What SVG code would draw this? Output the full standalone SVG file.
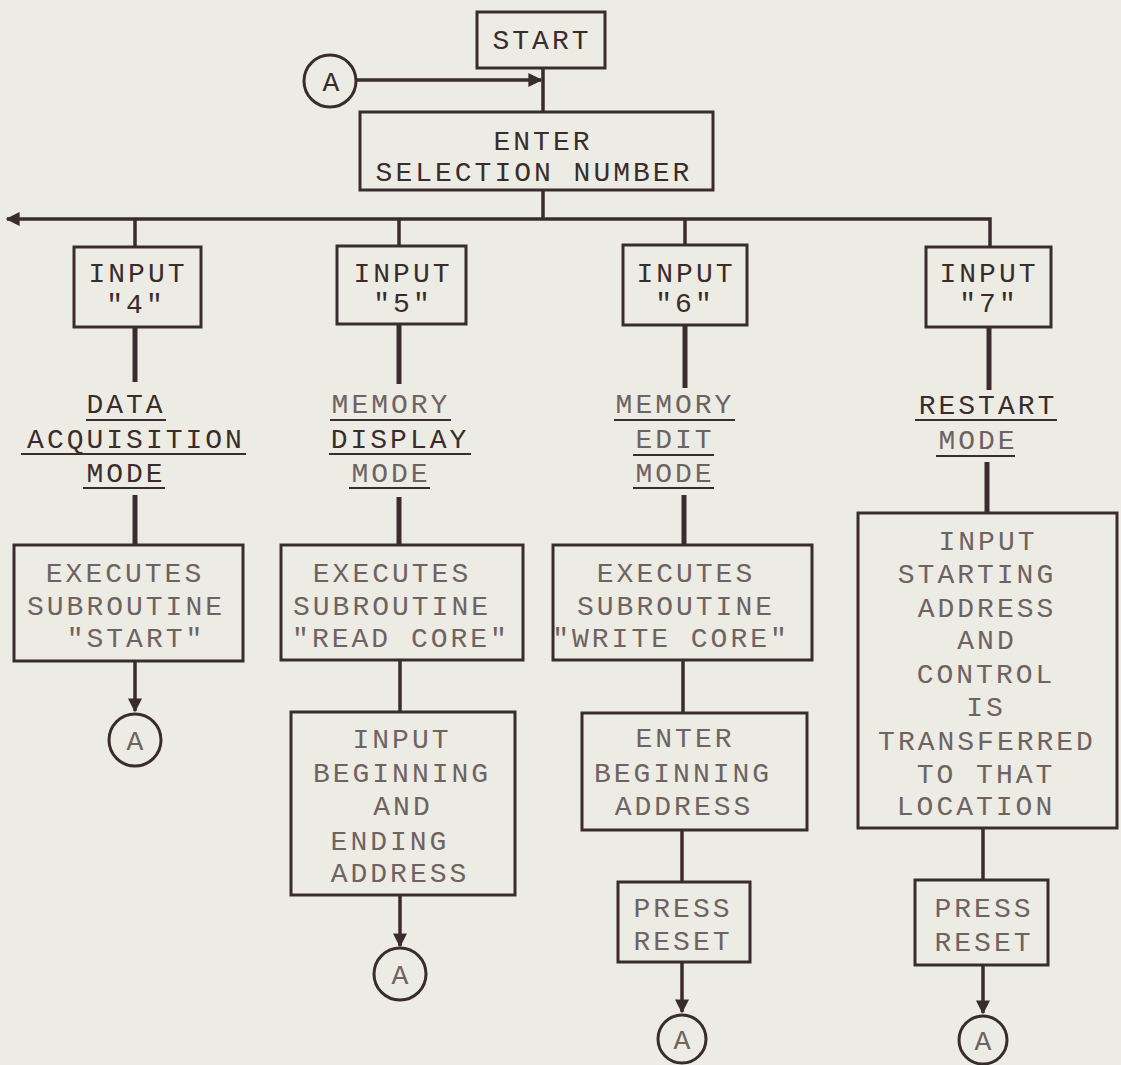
<svg xmlns="http://www.w3.org/2000/svg" width="1121" height="1065" viewBox="0 0 1121 1065">
<style>
.bg{fill:#ececE4}
.box{fill:none;stroke:#3a2c2c;stroke-width:3}
.ln{fill:none;stroke:#3a2c2c;stroke-width:3.5}
.thk{stroke-width:5}
.ul{stroke:#3a2c2c;stroke-width:2}
.t{font-family:"Liberation Mono","DejaVu Sans Mono",monospace;font-size:28px;fill:#3a2c2c;text-anchor:middle;letter-spacing:3px}
.f{fill:#6e6262}
.circ{fill:none;stroke:#3a2c2c;stroke-width:3}
</style>
<defs>
<marker id="ah" viewBox="0 0 10 10" refX="9" refY="5" markerWidth="4" markerHeight="4" orient="auto-start-reverse" markerUnits="strokeWidth"><path d="M0,0 L10,5 L0,10 z" fill="#3a2c2c"/></marker>
</defs>
<rect class="bg" x="0" y="0" width="1121" height="1065"/>

<g id="connectors">
<line class="ln" x1="543" y1="68" x2="543" y2="112"/>
<line class="ln" x1="357" y1="80" x2="541" y2="80" marker-end="url(#ah)"/>
<line class="ln" x1="543" y1="190" x2="543" y2="219"/>
<path class="ln" d="M990,247 L990,219 L7,219" marker-end="url(#ah)"/>
<line class="ln" x1="135" y1="219" x2="135" y2="247"/>
<line class="ln" x1="399" y1="219" x2="399" y2="246"/>
<line class="ln" x1="685" y1="219" x2="685" y2="245"/>
<line class="ln thk" x1="135" y1="327" x2="135" y2="382"/>
<line class="ln thk" x1="399" y1="324" x2="399" y2="384"/>
<line class="ln thk" x1="685" y1="325" x2="685" y2="388"/>
<line class="ln thk" x1="989" y1="327" x2="989" y2="390"/>
<line class="ln thk" x1="135" y1="495" x2="135" y2="545"/>
<line class="ln thk" x1="399" y1="497" x2="399" y2="545"/>
<line class="ln thk" x1="684" y1="495" x2="684" y2="545"/>
<line class="ln thk" x1="987" y1="462" x2="987" y2="513"/>
<line class="ln" x1="135" y1="661" x2="135" y2="711" marker-end="url(#ah)"/>
<line class="ln" x1="400" y1="660" x2="400" y2="712"/>
<line class="ln" x1="683" y1="660" x2="683" y2="713"/>
<line class="ln" x1="400" y1="895" x2="400" y2="946" marker-end="url(#ah)"/>
<line class="ln" x1="682" y1="830" x2="682" y2="882"/>
<line class="ln" x1="682" y1="962" x2="682" y2="1012" marker-end="url(#ah)"/>
<line class="ln" x1="983" y1="828" x2="983" y2="880"/>
<line class="ln" x1="983" y1="965" x2="983" y2="1013" marker-end="url(#ah)"/>
</g>

<g id="start">
<rect class="box" x="477" y="12" width="128" height="56"/>
<text class="t" x="542" y="49">START</text>
</g>

<g id="connector-a-top">
<circle class="circ" cx="330" cy="81" r="26"/>
<text class="t" x="331" y="91" style="letter-spacing:0">A</text>
</g>

<g id="enter-selection">
<rect class="box" x="360" y="112" width="353" height="78"/>
<text class="t" x="543" y="150">ENTER</text>
<text class="t" x="534" y="181">SELECTION NUMBER</text>
</g>

<g id="input4">
<rect class="box" x="74" y="247" width="127" height="80"/>
<text class="t" x="138" y="282">INPUT</text>
<text class="t" x="136" y="313">"4"</text>
</g>
<g id="input5">
<rect class="box" x="337" y="246" width="129" height="78"/>
<text class="t" x="403" y="282">INPUT</text>
<text class="t" x="403" y="312">"5"</text>
</g>
<g id="input6">
<rect class="box" x="623" y="245" width="124" height="80"/>
<text class="t" x="686" y="282">INPUT</text>
<text class="t" x="685" y="312">"6"</text>
</g>
<g id="input7">
<rect class="box" x="926" y="247" width="125" height="80"/>
<text class="t" x="989" y="282">INPUT</text>
<text class="t" x="989" y="312">"7"</text>
</g>

<g id="mode-data-acquisition">
<text class="t" x="126" y="413">DATA</text>
<line class="ul" x1="86" y1="420" x2="166" y2="420"/>
<text class="t" x="136" y="448">ACQUISITION</text>
<line class="ul" x1="21" y1="454" x2="246" y2="454"/>
<text class="t" x="126" y="482">MODE</text>
<line class="ul" x1="83" y1="488" x2="165" y2="488"/>
</g>
<g id="mode-memory-display">
<text class="t f" x="391" y="413">MEMORY</text>
<line class="ul" x1="330" y1="420" x2="451" y2="420"/>
<text class="t" x="400" y="448">DISPLAY</text>
<line class="ul" x1="329" y1="454" x2="471" y2="454"/>
<text class="t f" x="391" y="482">MODE</text>
<line class="ul" x1="349" y1="488" x2="430" y2="488"/>
</g>
<g id="mode-memory-edit">
<text class="t f" x="675" y="413">MEMORY</text>
<line class="ul" x1="614" y1="420" x2="735" y2="420"/>
<text class="t f" x="675" y="448">EDIT</text>
<line class="ul" x1="633" y1="455" x2="714" y2="455"/>
<text class="t f" x="675" y="482">MODE</text>
<line class="ul" x1="633" y1="488" x2="714" y2="488"/>
</g>
<g id="mode-restart">
<text class="t" x="988" y="414">RESTART</text>
<line class="ul" x1="915" y1="420" x2="1057" y2="420"/>
<text class="t f" x="978" y="449">MODE</text>
<line class="ul" x1="936" y1="456" x2="1015" y2="456"/>
</g>

<g id="exec-start">
<rect class="box" x="14" y="545" width="229" height="116"/>
<text class="t f" x="125" y="582">EXECUTES</text>
<text class="t f" x="126" y="615">SUBROUTINE</text>
<text class="t f" x="136" y="647">"START"</text>
</g>
<g id="exec-read-core">
<rect class="box" x="281" y="545" width="242" height="115"/>
<text class="t f" x="392" y="582">EXECUTES</text>
<text class="t f" x="392" y="615">SUBROUTINE</text>
<text class="t f" x="401" y="647">"READ CORE"</text>
</g>
<g id="exec-write-core">
<rect class="box" x="553" y="545" width="259" height="115"/>
<text class="t f" x="676" y="582">EXECUTES</text>
<text class="t f" x="676" y="615">SUBROUTINE</text>
<text class="t f" x="671" y="647">"WRITE CORE"</text>
</g>
<g id="input-start-address">
<rect class="box" x="858" y="513" width="259" height="315"/>
<text class="t f" x="988" y="550">INPUT</text>
<text class="t f" x="977" y="583">STARTING</text>
<text class="t f" x="987" y="617">ADDRESS</text>
<text class="t f" x="987" y="649">AND</text>
<text class="t f" x="986" y="683">CONTROL</text>
<text class="t f" x="986" y="716">IS</text>
<text class="t f" x="987" y="750">TRANSFERRED</text>
<text class="t f" x="986" y="783">TO THAT</text>
<text class="t f" x="976" y="815">LOCATION</text>
</g>

<g id="input-begin-end">
<rect class="box" x="291" y="712" width="224" height="183"/>
<text class="t f" x="402" y="748">INPUT</text>
<text class="t f" x="402" y="782">BEGINNING</text>
<text class="t f" x="403" y="815">AND</text>
<text class="t f" x="390" y="850">ENDING</text>
<text class="t f" x="400" y="882">ADDRESS</text>
</g>
<g id="enter-begin">
<rect class="box" x="582" y="713" width="225" height="117"/>
<text class="t f" x="685" y="747">ENTER</text>
<text class="t f" x="683" y="782">BEGINNING</text>
<text class="t f" x="684" y="815">ADDRESS</text>
</g>
<g id="press-reset-6">
<rect class="box" x="618" y="882" width="132" height="80"/>
<text class="t f" x="683" y="917">PRESS</text>
<text class="t f" x="683" y="950">RESET</text>
</g>
<g id="press-reset-7">
<rect class="box" x="915" y="880" width="133" height="85"/>
<text class="t f" x="984" y="917">PRESS</text>
<text class="t f" x="984" y="951">RESET</text>
</g>

<g id="a-col1">
<circle class="circ" cx="135" cy="740" r="26"/>
<text class="t f" x="135" y="750" style="letter-spacing:0">A</text>
</g>
<g id="a-col2">
<circle class="circ" cx="400" cy="974" r="26"/>
<text class="t f" x="400" y="984" style="letter-spacing:0">A</text>
</g>
<g id="a-col3">
<circle class="circ" cx="682" cy="1039" r="24"/>
<text class="t f" x="682" y="1049" style="letter-spacing:0">A</text>
</g>
<g id="a-col4">
<circle class="circ" cx="983" cy="1040" r="24"/>
<text class="t f" x="983" y="1050" style="letter-spacing:0">A</text>
</g>
</svg>
